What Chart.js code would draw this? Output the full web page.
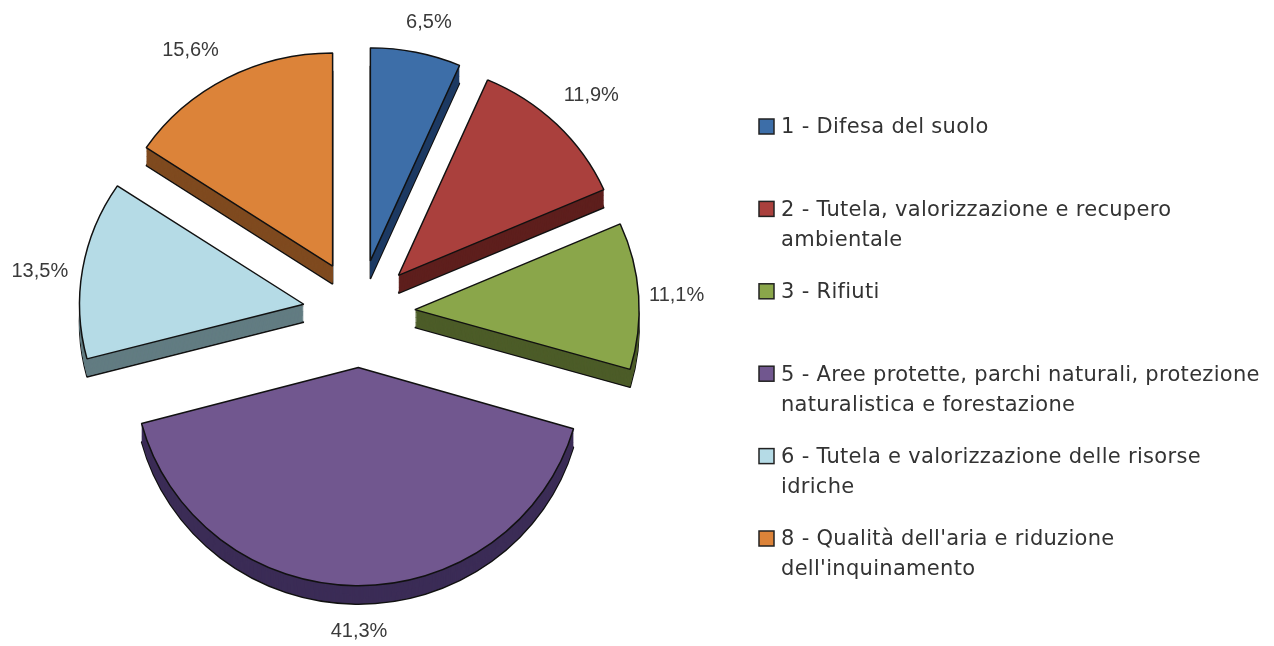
<!DOCTYPE html>
<html>
<head>
<meta charset="utf-8">
<title>Ripartizione percentuale</title>
<script src="https://cdn.jsdelivr.net/npm/chart.js@4"></script>
<style>
    html, body { margin: 0; padding: 0; background: #fff; }
    canvas { display: block; }
</style>
</head>
<body>
<canvas id="pieChart" width="1274" height="646"></canvas>
<script>
const categories = [
    ['1 - Difesa del suolo'],
    ['2 - Tutela, valorizzazione e recupero', 'ambientale'],
    ['3 - Rifiuti'],
    ['5 - Aree protette, parchi naturali, protezione', 'naturalistica e forestazione'],
    ['6 - Tutela e valorizzazione delle risorse', 'idriche'],
    ["8 - Qualità dell'aria e riduzione", "dell'inquinamento"]
];
const values = [6.5, 11.9, 11.1, 41.3, 13.5, 15.6];
const topColors = ['#3d6ea8', '#aa403d', '#8aa64a', '#71578f', '#b5dbe6', '#dc8339'];
const sideColors = ['#1d3a63', '#5e1f1d', '#4c5c28', '#3b2c56', '#627c82', '#7f4a1f'];

const explode = 56;    // distanza delle fette dal centro
const depth = 19;      // spessore 3D

// piccoli aggiustamenti delle etichette rispetto alla posizione calcolata
const labelNudges = [[-5, 2], [1, -6], [-2, 2], [8, -5], [-3, 7], [-9, 1]];

function formatValue(v) {
    return v.toFixed(1).replace('.', ',') + '%';
}

// la fetta davanti e' un po' piu' alta per effetto della prospettiva
function squashFor(mid) {
    return Math.sin(mid) > 0.5 ? 0.973 : 0.95;
}

function drawArcWith(ctx, arc, opts) {
    const saved = arc.options;
    arc.options = Object.assign({}, saved, opts);
    arc.draw(ctx);
    arc.options = saved;
}

const explodedPie = {
    id: 'explodedPie',
    // disegno le fette qui invece del disegno standard
    beforeDatasetDraw(chart, args) {
        const ctx = chart.ctx;
        args.meta.data.forEach((arc, i) => {
            const mid = (arc.startAngle + arc.endAngle) / 2;
            ctx.save();
            ctx.translate(arc.x, arc.y);
            ctx.scale(1, squashFor(mid));
            ctx.translate(-arc.x, -arc.y);
            ctx.translate(Math.cos(mid) * explode, Math.sin(mid) * explode);

            ctx.save();
            ctx.translate(0, depth);
            drawArcWith(ctx, arc, { backgroundColor: sideColors[i], borderColor: '#111', borderWidth: 1.5 });
            ctx.restore();
            for (let d = depth - 1; d > 0; d--) {
                ctx.save();
                ctx.translate(0, d);
                drawArcWith(ctx, arc, { backgroundColor: sideColors[i], borderWidth: 0 });
                ctx.restore();
            }
            arc.draw(ctx);
            ctx.restore();
        });
        return false;
    },
    afterDatasetsDraw(chart) {
        const ctx = chart.ctx;
        const arcs = chart.getDatasetMeta(0).data;

        // etichette percentuali
        ctx.save();
        ctx.font = '20px "Liberation Sans"';
        ctx.fillStyle = '#3a3a3a';
        ctx.textAlign = 'center';
        ctx.textBaseline = 'middle';
        arcs.forEach((arc, i) => {
            const mid = (arc.startAngle + arc.endAngle) / 2;
            const c = Math.cos(mid);
            const s = Math.sin(mid);
            const reach = arc.outerRadius + explode;
            const x = arc.x + c * reach + Math.sign(c) * Math.sqrt(Math.abs(c)) * 40;
            let y = arc.y + s * reach * squashFor(mid) + s * 32;
            if (s > 0.5) y += depth;
            ctx.fillText(formatValue(values[i]), x + labelNudges[i][0], y + labelNudges[i][1]);
        });
        ctx.restore();

        // legenda
        const legendX = 759;
        const legendTop = 127;
        const legendStep = 82.4;
        const lineHeight = 30;
        ctx.save();
        ctx.font = '21px "DejaVu Sans"';
        ctx.letterSpacing = '0.3px';
        ctx.textAlign = 'left';
        ctx.textBaseline = 'middle';
        categories.forEach((lines, i) => {
            const y = legendTop + legendStep * i;
            ctx.fillStyle = topColors[i];
            ctx.strokeStyle = '#222';
            ctx.lineWidth = 1.5;
            ctx.fillRect(legendX, y - 8, 15, 15);
            ctx.strokeRect(legendX, y - 8, 15, 15);
            ctx.fillStyle = '#333';
            lines.forEach((line, j) => {
                ctx.fillText(line, legendX + 22, y + 1 + j * lineHeight);
            });
        });
        ctx.restore();
    }
};

new Chart(document.getElementById('pieChart').getContext('2d'), {
    type: 'pie',
    data: {
        labels: categories.map(lines => lines.join(' ')),
        datasets: [{
            data: values,
            backgroundColor: topColors,
            borderColor: '#111',
            borderWidth: 1.5
        }]
    },
    options: {
        responsive: false,
        animation: false,
        layout: { padding: { left: 134, right: 690, top: 88, bottom: 108 } },
        plugins: {
            legend: { display: false },
            tooltip: { enabled: false }
        }
    },
    plugins: [explodedPie]
});
</script>
</body>
</html>
